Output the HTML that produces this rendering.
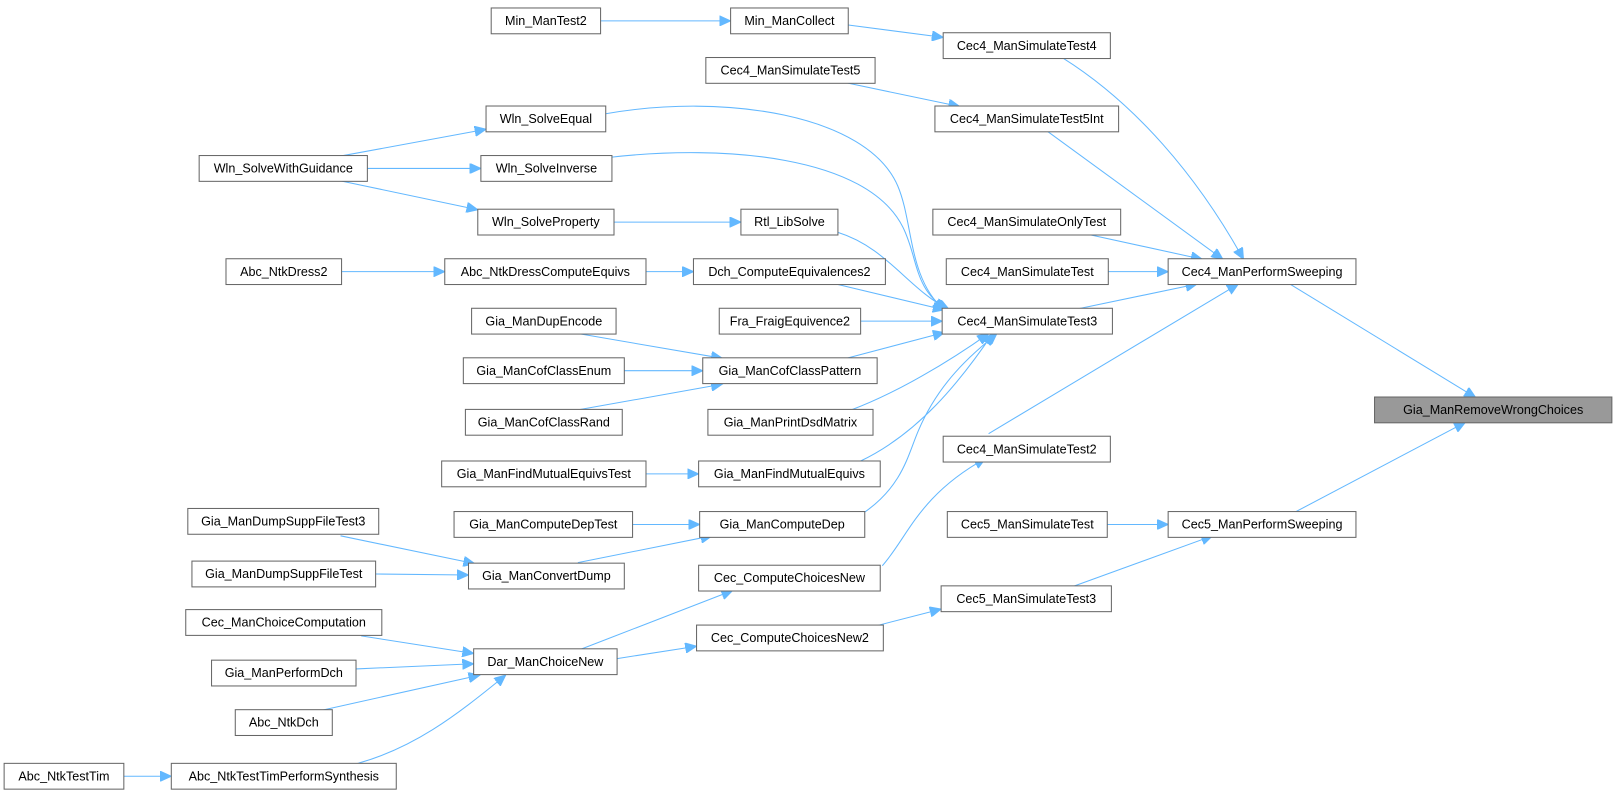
<!DOCTYPE html>
<html><head><meta charset="utf-8"><style>
html,body{margin:0;padding:0;background:#fff;}
svg{display:block;}
text{font-family:"Liberation Sans",Arial,sans-serif;font-size:12.2px;fill:#000;text-anchor:middle;}
rect{fill:#fff;stroke:#666;stroke-width:1;}
path{fill:none;stroke:#63b8ff;stroke-width:1;}
</style></head><body>
<svg width="1616" height="793" viewBox="0 0 1566 768" xmlns="http://www.w3.org/2000/svg">
<defs><marker id="a" markerUnits="userSpaceOnUse" markerWidth="12" markerHeight="10" refX="11" refY="5" orient="auto"><path d="M0,0 L11,5 L0,10 z" style="fill:#63b8ff;stroke:#63b8ff"/></marker></defs>
<g marker-end="url(#a)">
<path d="M582,20 L708,20"/>
<path d="M822,24 L914,36"/>
<path d="M1030,56 C1100,100 1160,170 1205,251"/>
<path d="M820,80 L930,103"/>
<path d="M1015,127 L1185,251"/>
<path d="M1055,227 L1165,251"/>
<path d="M1074,263 L1132,263"/>
<path d="M1045,299 L1160,275"/>
<path d="M958,420 L1200,275"/>
<path d="M1250,275 L1430,385"/>
<path d="M1255,496 L1420,409"/>
<path d="M1073,508 L1132,508"/>
<path d="M1040,568 L1175,519"/>
<path d="M850,606 L912,590"/>
<path d="M855,548 C880,520 890,480 955,444"/>
<path d="M560,630 L710,572"/>
<path d="M598,638 L675,626"/>
<path d="M350,616 L459,633"/>
<path d="M345,648 L459,643"/>
<path d="M312,688 L465,654"/>
<path d="M345,740 C400,725 440,695 490,654"/>
<path d="M120,752 L166,752"/>
<path d="M330,519 L460,546"/>
<path d="M364,556 L454,557"/>
<path d="M560,545 L690,519"/>
<path d="M613,508 L678,508"/>
<path d="M838,496 C875,470 880,440 890,417 C910,370 940,345 966,323"/>
<path d="M833,447 C890,420 930,370 962,323"/>
<path d="M825,397 C870,380 920,350 958,323"/>
<path d="M820,347 L915,322"/>
<path d="M834,311 L913,311"/>
<path d="M810,275 L915,300"/>
<path d="M812,225 C860,240 880,280 920,300"/>
<path d="M587,110 C700,90 840,110 870,180 C885,215 880,270 915,300"/>
<path d="M593,152 C700,140 840,150 875,220 C890,250 885,280 918,300"/>
<path d="M560,323 L700,347"/>
<path d="M605,359 L681,359"/>
<path d="M560,397 L700,372"/>
<path d="M626,459 L677,459"/>
<path d="M330,151 L471,125"/>
<path d="M356,163 L466,163"/>
<path d="M330,175 L463,203"/>
<path d="M595,215 L718,215"/>
<path d="M331,263 L431,263"/>
<path d="M626,263 L672,263"/>
</g>
<g>
<rect x="476" y="7.5" width="106" height="25"/><text x="529" y="24">Min_ManTest2</text>
<rect x="708" y="7.5" width="114" height="25"/><text x="765" y="24">Min_ManCollect</text>
<rect x="914" y="31.5" width="162" height="25"/><text x="995" y="48">Cec4_ManSimulateTest4</text>
<rect x="684" y="55.5" width="164" height="25"/><text x="766" y="72">Cec4_ManSimulateTest5</text>
<rect x="906" y="102.5" width="178" height="25"/><text x="995" y="119">Cec4_ManSimulateTest5Int</text>
<rect x="471" y="102.5" width="116" height="25"/><text x="529" y="119">Wln_SolveEqual</text>
<rect x="193" y="150.5" width="163" height="25"/><text x="274.5" y="167">Wln_SolveWithGuidance</text>
<rect x="466" y="150.5" width="127" height="25"/><text x="529.5" y="167">Wln_SolveInverse</text>
<rect x="463" y="202.5" width="132" height="25"/><text x="529" y="219">Wln_SolveProperty</text>
<rect x="718" y="202.5" width="94" height="25"/><text x="765" y="219">Rtl_LibSolve</text>
<rect x="904" y="202.5" width="182" height="25"/><text x="995" y="219">Cec4_ManSimulateOnlyTest</text>
<rect x="219" y="250.5" width="112" height="25"/><text x="275" y="267">Abc_NtkDress2</text>
<rect x="431" y="250.5" width="195" height="25"/><text x="528.5" y="267">Abc_NtkDressComputeEquivs</text>
<rect x="672" y="250.5" width="186" height="25"/><text x="765" y="267">Dch_ComputeEquivalences2</text>
<rect x="917" y="250.5" width="157" height="25"/><text x="995.5" y="267">Cec4_ManSimulateTest</text>
<rect x="1132" y="250.5" width="182" height="25"/><text x="1223" y="267">Cec4_ManPerformSweeping</text>
<rect x="457" y="298.5" width="140" height="25"/><text x="527" y="315">Gia_ManDupEncode</text>
<rect x="697" y="298.5" width="137" height="25"/><text x="765.5" y="315">Fra_FraigEquivence2</text>
<rect x="913" y="298.5" width="165" height="25"/><text x="995.5" y="315">Cec4_ManSimulateTest3</text>
<rect x="449" y="346.5" width="156" height="25"/><text x="527" y="363">Gia_ManCofClassEnum</text>
<rect x="681" y="346.5" width="169" height="25"/><text x="765.5" y="363">Gia_ManCofClassPattern</text>
<rect x="1332" y="384.5" width="230" height="25" style="fill:#999"/><text x="1447" y="401">Gia_ManRemoveWrongChoices</text>
<rect x="451" y="396.5" width="152" height="25"/><text x="527" y="413">Gia_ManCofClassRand</text>
<rect x="686" y="396.5" width="160" height="25"/><text x="766" y="413">Gia_ManPrintDsdMatrix</text>
<rect x="914" y="422.5" width="162" height="25"/><text x="995" y="439">Cec4_ManSimulateTest2</text>
<rect x="428" y="446.5" width="198" height="25"/><text x="527" y="463">Gia_ManFindMutualEquivsTest</text>
<rect x="677" y="446.5" width="176" height="25"/><text x="765" y="463">Gia_ManFindMutualEquivs</text>
<rect x="440" y="495.5" width="173" height="25"/><text x="526.5" y="512">Gia_ManComputeDepTest</text>
<rect x="678" y="495.5" width="160" height="25"/><text x="758" y="512">Gia_ManComputeDep</text>
<rect x="918" y="495.5" width="155" height="25"/><text x="995.5" y="512">Cec5_ManSimulateTest</text>
<rect x="1132" y="495.5" width="182" height="25"/><text x="1223" y="512">Cec5_ManPerformSweeping</text>
<rect x="182" y="492.5" width="185" height="25"/><text x="274.5" y="509">Gia_ManDumpSuppFileTest3</text>
<rect x="186" y="543.5" width="178" height="25"/><text x="275" y="560">Gia_ManDumpSuppFileTest</text>
<rect x="454" y="545.5" width="151" height="25"/><text x="529.5" y="562">Gia_ManConvertDump</text>
<rect x="677" y="547.5" width="176" height="25"/><text x="765" y="564">Cec_ComputeChoicesNew</text>
<rect x="912" y="567.5" width="165" height="25"/><text x="994.5" y="584">Cec5_ManSimulateTest3</text>
<rect x="180" y="590.5" width="190" height="25"/><text x="275" y="607">Cec_ManChoiceComputation</text>
<rect x="675" y="605.5" width="181" height="25"/><text x="765.5" y="622">Cec_ComputeChoicesNew2</text>
<rect x="459" y="628.5" width="139" height="25"/><text x="528.5" y="645">Dar_ManChoiceNew</text>
<rect x="205" y="639.5" width="140" height="25"/><text x="275" y="656">Gia_ManPerformDch</text>
<rect x="228" y="687.5" width="94" height="25"/><text x="275" y="704">Abc_NtkDch</text>
<rect x="4" y="739.5" width="116" height="25"/><text x="62" y="756">Abc_NtkTestTim</text>
<rect x="166" y="739.5" width="218" height="25"/><text x="275" y="756">Abc_NtkTestTimPerformSynthesis</text>
</g>
</svg>
</body></html>
